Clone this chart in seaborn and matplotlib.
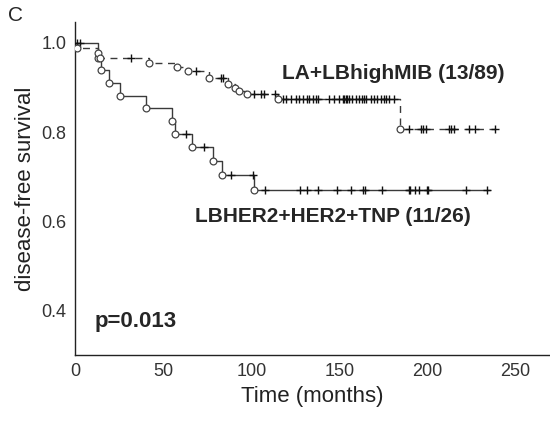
import numpy as np
import pandas as pd
import matplotlib
matplotlib.use("Agg")
import matplotlib.pyplot as plt
import seaborn as sns

# ---------------------------------------------------------
# Data (Kaplan-Meier steps)
# ---------------------------------------------------------
# group 1: LA+LBhighMIB (dashed)
la_event_t = [1, 13, 14, 42, 58, 64, 76, 87, 91, 93, 97.5, 115, 184.5]
la_event_s = [0.989, 0.978, 0.966, 0.956, 0.946, 0.936, 0.921, 0.908, 0.900, 0.893, 0.885, 0.874, 0.806]
la_end = 238.5
la_censor = [32, 68.5, 83, 84, 101.8, 105.6, 107.5, 113.7,
             117.8, 119.7, 122.5, 125.3, 127.2, 129.1, 131.9, 132.9, 134.8, 136.7,
             137.6, 144.2, 147.1, 149.9, 151.8, 152.7, 153.7, 154.6, 155.5, 157.4,
             159.3, 161.2, 163.1, 164, 165, 167.8, 169.7, 171.5, 173.4, 175.3,
             176.3, 178.1, 180.9,
             189.5, 196.1, 197.4, 198.9, 212.1, 213.1, 214.9, 223.4, 227.2, 238.5]

# group 2: LBHER2+HER2+TNP (solid)
her_event_t = [13.2, 15, 19.4, 25.5, 40.5, 55, 57, 66.4, 78.2, 83.5, 101.8]
her_event_s = [0.966, 0.940, 0.910, 0.882, 0.853, 0.824, 0.796, 0.767, 0.736, 0.703, 0.669]
her_end = 235.7
her_censor = [1, 3, 63.2, 73, 88.6, 101.2, 107.8, 127.8, 131.4, 137.6, 148.9, 156.5,
              163.6, 164.6, 174, 189.5, 190, 192.9, 195.1, 199.5, 200, 221.9, 234]

label_la = "LA+LBhighMIB (13/89)"
label_her = "LBHER2+HER2+TNP (11/26)"
p_text = "p=0.013"


def km_frame(ev_t, ev_s, end):
    t = [0] + list(ev_t) + [end]
    s = [1.0] + list(ev_s) + [ev_s[-1]]
    return pd.DataFrame({"t": t, "s": s})


def censor_frame(ev_t, ev_s, cens):
    steps_t = np.array([0] + list(ev_t))
    steps_s = np.array([1.0] + list(ev_s))
    idx = np.searchsorted(steps_t, cens, side="right") - 1
    return pd.DataFrame({"t": cens, "s": steps_s[idx]})


df_la = km_frame(la_event_t, la_event_s, la_end)
df_her = km_frame(her_event_t, her_event_s, her_end)
cen_la = censor_frame(la_event_t, la_event_s, la_censor)
cen_her = censor_frame(her_event_t, her_event_s, her_censor)
ev_la = pd.DataFrame({"t": la_event_t, "s": la_event_s})
ev_her = pd.DataFrame({"t": her_event_t, "s": her_event_s})

# ---------------------------------------------------------
# Plot
# ---------------------------------------------------------
sns.set_style("white")
plt.rcParams["font.family"] = ["Liberation Sans", "DejaVu Sans"]

fig = plt.figure(figsize=(5.5, 4.21), dpi=100)
ax = fig.add_axes([0.1364, 0.1568, 0.862, 0.791])

line_col = "#3a3a3a"

sns.lineplot(data=df_her, x="t", y="s", drawstyle="steps-post", color=line_col,
             linewidth=1.0, estimator=None, ax=ax)
sns.lineplot(data=df_la, x="t", y="s", drawstyle="steps-post", color=line_col,
             linewidth=1.0, linestyle=(0, (5, 4)), estimator=None, ax=ax)

for cen in [cen_her, cen_la]:
    sns.scatterplot(data=cen, x="t", y="s", marker="+", s=26, color="#111111",
                    linewidth=1.0, ax=ax, zorder=4)
for ev in [ev_her, ev_la]:
    sns.scatterplot(data=ev, x="t", y="s", marker="o", s=24, facecolor="white",
                    edgecolor="#444444", linewidth=0.9, ax=ax, zorder=5)

ax.set_xlim(0, 269)
ax.set_ylim(0.3, 1.047)
ax.set_xticks([0, 50, 100, 150, 200, 250])
ax.set_yticks([0.4, 0.6, 0.8, 1.0])
ax.set_yticklabels(["0.4", "0.6", "0.8", "1.0"])
ax.tick_params(direction="in", length=3, labelsize=13, colors="#333333", pad=6)
ax.set_xlabel("Time (months)", fontsize=16, color="#222222")
ax.set_ylabel("disease-free survival", fontsize=16, color="#222222")
sns.despine(ax=ax)
for sp in ["left", "bottom"]:
    ax.spines[sp].set_color("#222222")
    ax.spines[sp].set_linewidth(1.0)

ax.text(117.5, 0.931, label_la, fontsize=15, fontweight="bold", va="center", ha="left")
ax.text(68, 0.611, label_her, fontsize=15, fontweight="bold", va="center", ha="left")
ax.text(11, 0.374, p_text, fontsize=16, fontweight="bold", va="center", ha="left")
fig.text(0.014, 0.962, "C", fontsize=15, va="center", ha="left")

fig.savefig("out.png", dpi=100)
